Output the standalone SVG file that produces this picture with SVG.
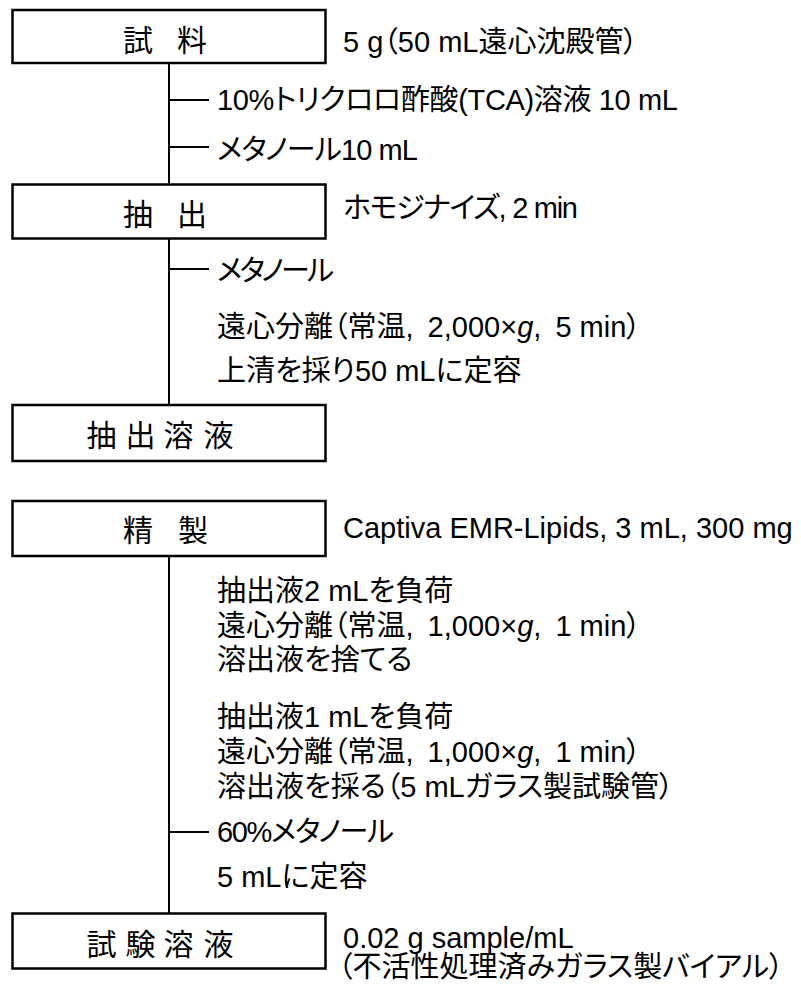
<svg xmlns="http://www.w3.org/2000/svg" width="801" height="990" viewBox="0 0 801 990">
<style>
.box{fill:#fff;stroke:#000;stroke-width:2.5}
.ln{stroke:#000;stroke-width:2;fill:none}
text{font-family:"Liberation Sans","Noto Sans CJK JP",sans-serif;font-size:29px;fill:#000;font-feature-settings:"palt"}
.lbl{font-size:30px;font-feature-settings:normal}
</style>
<rect width="801" height="990" fill="#fff"/>
<g id="connectors">
<path class="ln" d="M169,64V184M169,100H209M169,147H209"/>
<path class="ln" d="M169,233V405M169,269H209"/>
<path class="ln" d="M169,552V913M169,832H209"/>
</g>
<g id="n1">
<rect class="box" x="12.5" y="10" width="313" height="53"/>
<text class="lbl" y="51"><tspan x="123">試</tspan> <tspan x="177">料</tspan></text>
</g>
<text x="343" y="52">5 g（50 mL遠心沈殿管）</text>
<text x="217" y="110" textLength="461" lengthAdjust="spacing">10%トリクロロ酢酸(TCA)溶液 10 mL</text>
<text x="217" y="160" textLength="201" lengthAdjust="spacing">メタノール10 mL</text>
<g id="n2">
<rect class="box" x="12.5" y="184.5" width="313" height="54"/>
<text class="lbl" y="225"><tspan x="123">抽</tspan> <tspan x="177">出</tspan></text>
</g>
<text x="343" y="218" textLength="235" lengthAdjust="spacing">ホモジナイズ, 2 min</text>
<text x="217" y="281" textLength="117" lengthAdjust="spacing">メタノール</text>
<text x="217" y="337">遠心分離（常温,<tspan dx="6"> 2,000×</tspan><tspan font-style="italic">g</tspan>,<tspan dx="6"> 5 min）</tspan></text>
<text x="217" y="381">上清を採り50 mLに定容</text>
<g id="n3">
<rect class="box" x="12.5" y="405" width="313" height="56"/>
<text class="lbl" y="446"><tspan x="86.5">抽</tspan> <tspan x="125.5">出</tspan> <tspan x="163.5">溶</tspan> <tspan x="203.5">液</tspan></text>
</g>
<g id="n4">
<rect class="box" x="12.5" y="501" width="313" height="55"/>
<text class="lbl" y="541"><tspan x="123">精</tspan> <tspan x="178">製</tspan></text>
</g>
<text x="343" y="538">Captiva EMR-Lipids, 3 mL, 300 mg</text>
<text x="217" y="601">抽出液2 mLを負荷</text>
<text x="217" y="636">遠心分離（常温,<tspan dx="6"> 1,000×</tspan><tspan font-style="italic">g</tspan>,<tspan dx="6"> 1 min）</tspan></text>
<text x="217" y="670">溶出液を捨てる</text>
<text x="217" y="727">抽出液1 mLを負荷</text>
<text x="217" y="762">遠心分離（常温,<tspan dx="6"> 1,000×</tspan><tspan font-style="italic">g</tspan>,<tspan dx="6"> 1 min）</tspan></text>
<text x="217" y="797">溶出液を採る（5 mLガラス製試験管）</text>
<text x="217" y="842" textLength="177" lengthAdjust="spacing">60%メタノール</text>
<text x="217" y="887">5 mLに定容</text>
<g id="n5">
<rect class="box" x="12.5" y="913.5" width="313" height="55"/>
<text class="lbl" y="955"><tspan x="86.5">試</tspan> <tspan x="125.5">験</tspan> <tspan x="163.5">溶</tspan> <tspan x="203.5">液</tspan></text>
</g>
<text x="343" y="948">0.02 g sample/mL</text>
<text x="338" y="977">（不活性処理済みガラス製バイアル）</text>
</svg>
